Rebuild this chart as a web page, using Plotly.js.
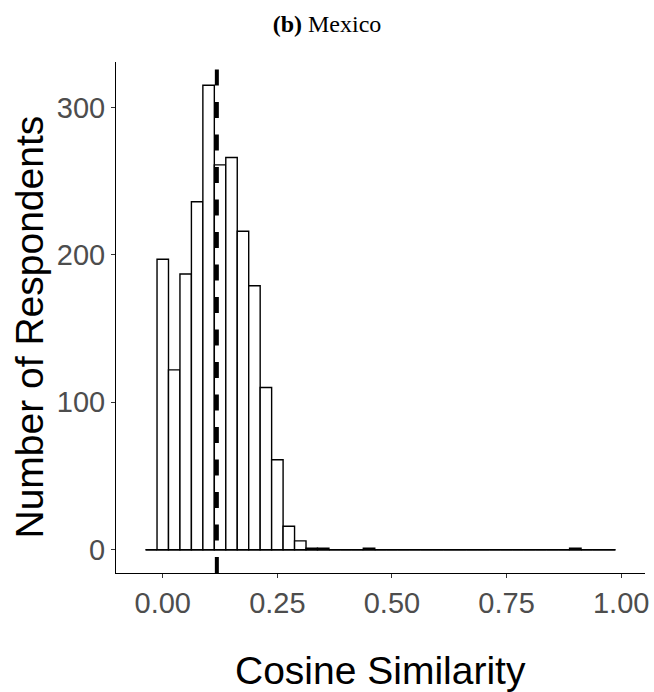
<!DOCTYPE html>
<html>
<head>
<meta charset="utf-8">
<script src="https://cdn.plot.ly/plotly-3.0.1.min.js"></script>
<style>html,body{margin:0;padding:0;background:#fff;}</style>
</head>
<body>
<div id="chart" style="width:654px;height:692px;"></div>
<script>
// Histogram bin centers (binwidth 0.025) and counts
const binCenters = [-0.025, 0.000, 0.025, 0.050, 0.075, 0.100, 0.125, 0.150, 0.175, 0.200,
  0.225, 0.250, 0.275, 0.300, 0.325, 0.350, 0.375, 0.400, 0.425, 0.450,
  0.475, 0.500, 0.525, 0.550, 0.575, 0.600, 0.625, 0.650, 0.675, 0.700,
  0.725, 0.750, 0.775, 0.800, 0.825, 0.850, 0.875, 0.900, 0.925, 0.950, 0.975];
const counts = [0, 197, 122, 187, 236, 315, 261, 266, 216, 179,
  110, 61, 16, 6, 1, 1, 0, 0, 0, 1,
  0, 0, 0, 0, 0, 0, 0, 0, 0, 0,
  0, 0, 0, 0, 0, 0, 0, 1, 0, 0, 0];
const binWidth = 0.025;
const meanValue = 0.118;
const xTickVals = [0, 0.25, 0.5, 0.75, 1.0];
const xTickText = ["0.00", "0.25", "0.50", "0.75", "1.00"];
const yTickVals = [0, 100, 200, 300];
const yTickText = ["0", "100", "200", "300"];
const xTitle = "Cosine Similarity";
const yTitle = "Number of Respondents";

const firstEdge = binCenters[0] - binWidth / 2;
const lastEdge = binCenters[binCenters.length - 1] + binWidth / 2;

const tickFont = {family: "Liberation Sans, Arial, sans-serif", size: 29, color: "#4D4D4D"};
const titleFont = {family: "Liberation Sans, Arial, sans-serif", size: 39, color: "#000000"};

const traces = [
  {
    type: "scatter", mode: "lines",
    x: [firstEdge, lastEdge], y: [0, 0],
    line: {color: "#000000", width: 1.4},
    hoverinfo: "skip", showlegend: false
  },
  {
    type: "bar",
    x: binCenters, y: counts,
    width: binWidth,
    marker: {color: "#FFFFFF", line: {color: "#000000", width: 1.4}},
    showlegend: false
  }
];

const layout = {
  width: 654, height: 692,
  paper_bgcolor: "#FFFFFF", plot_bgcolor: "#FFFFFF",
  margin: {l: 116, r: 9, t: 62, b: 119},
  bargap: 0,
  showlegend: false,
  title: {
    text: "<b>(b)</b> Mexico",
    font: {family: "Liberation Serif, Times New Roman, serif", size: 24, color: "#000000"},
    xref: "container", x: 0.5, xanchor: "center",
    yref: "container", y: 0.966, yanchor: "middle"
  },
  xaxis: {
    range: [-0.102, 1.052],
    tickmode: "array", tickvals: xTickVals, ticktext: xTickText,
    ticks: "outside", ticklen: 4, tickwidth: 1, tickcolor: "#333333",
    tickfont: tickFont,
    showline: true, linecolor: "#000000", linewidth: 1,
    showgrid: false, zeroline: false
  },
  yaxis: {
    range: [-15.75, 330.75],
    tickmode: "array", tickvals: yTickVals, ticktext: yTickText,
    ticks: "outside", ticklen: 4, tickwidth: 1, tickcolor: "#333333",
    tickfont: tickFont,
    showline: true, linecolor: "#000000", linewidth: 1,
    showgrid: false, zeroline: false
  },
  annotations: [
    {
      text: xTitle, font: titleFont, showarrow: false,
      xref: "paper", yref: "paper", x: 0.5, y: 0,
      xanchor: "center", yanchor: "middle", yshift: -97
    },
    {
      text: yTitle, font: titleFont, showarrow: false, textangle: -90,
      xref: "paper", yref: "paper", x: 0, y: 0.5,
      xanchor: "center", yanchor: "middle", xshift: -87, yshift: -10
    }
  ],
  shapes: [
    {
      type: "line", xref: "x", yref: "paper",
      x0: meanValue, x1: meanValue, y0: 0, y1: 1,
      line: {color: "#000000", width: 4, dash: "16px,16.5px"}
    }
  ]
};

Plotly.newPlot("chart", traces, layout, {displayModeBar: false, staticPlot: true});
</script>
</body>
</html>
